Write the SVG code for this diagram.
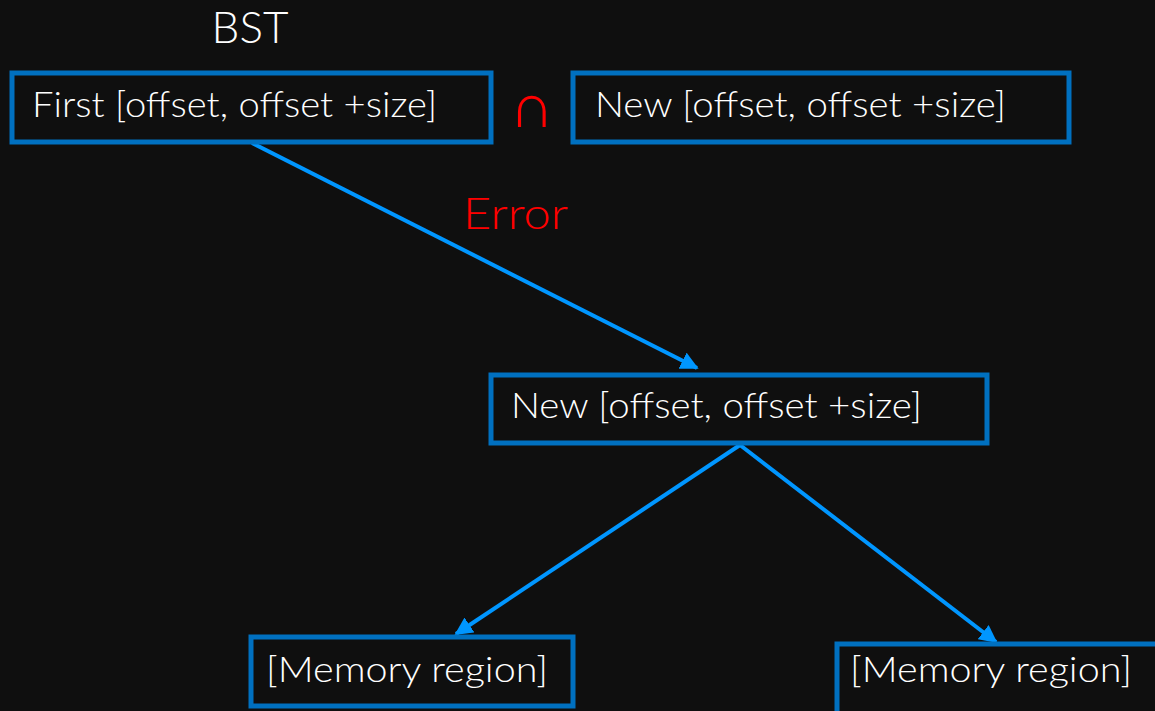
<svg xmlns="http://www.w3.org/2000/svg" width="1155" height="711" viewBox="0 0 1155 711">
<defs>
<style>
.box{fill:#0f0f0f;stroke:#0070c0;stroke-width:5;}
.t{font-family:Lato,"Open Sans",sans-serif;font-weight:300;fill:#ffffff;font-size:35px;}
.c{stroke:#0096ff;stroke-width:4;fill:none;}
</style>
<marker id="ah" viewBox="0 0 10 10" refX="9" refY="5" markerWidth="4.5" markerHeight="4.5" orient="auto" markerUnits="strokeWidth">
<path d="M0,0 L10,5 L0,10 z" fill="#0096ff"/>
</marker>
</defs>
<rect width="1155" height="711" fill="#0f0f0f"/>
<text x="250" y="43" text-anchor="middle" class="t" style="font-size:44px">BST</text>
<g id="connectors">
<line class="c" x1="252" y1="143" x2="697" y2="368" marker-end="url(#ah)"/>
<line class="c" x1="740" y1="445" x2="456" y2="634" marker-end="url(#ah)"/>
<line class="c" x1="740" y1="445" x2="996" y2="642" marker-end="url(#ah)"/>
</g>
<g id="first">
<rect class="box" x="12" y="73" width="479" height="69"/>
<text class="t" x="32" y="117" textLength="405" lengthAdjust="spacingAndGlyphs">First [offset, offset +size]</text>
</g>
<g id="intersect">
<text x="532" y="127" text-anchor="middle" style="font-family:'DejaVu Sans',sans-serif;font-weight:200;font-size:62px;fill:#ff0000">∩</text>
</g>
<g id="new-top">
<rect class="box" x="573" y="73" width="496" height="69"/>
<text class="t" x="595" y="117" textLength="411" lengthAdjust="spacingAndGlyphs">New [offset, offset +size]</text>
</g>
<g id="error">
<text x="463" y="229" style="font-family:Lato,sans-serif;font-weight:300;font-size:44px;fill:#ff0000" textLength="105" lengthAdjust="spacingAndGlyphs">Error</text>
</g>
<g id="new-mid">
<rect class="box" x="491" y="375" width="496" height="68"/>
<text class="t" x="511" y="418" textLength="411" lengthAdjust="spacingAndGlyphs">New [offset, offset +size]</text>
</g>
<g id="mem-left">
<rect class="box" x="251" y="637" width="322" height="69"/>
<text class="t" x="266" y="682" textLength="282" lengthAdjust="spacingAndGlyphs">[Memory region]</text>
</g>
<g id="mem-right">
<rect class="box" x="837" y="644" width="340" height="80"/>
<text class="t" x="850" y="682" textLength="282" lengthAdjust="spacingAndGlyphs">[Memory region]</text>
</g>
</svg>
